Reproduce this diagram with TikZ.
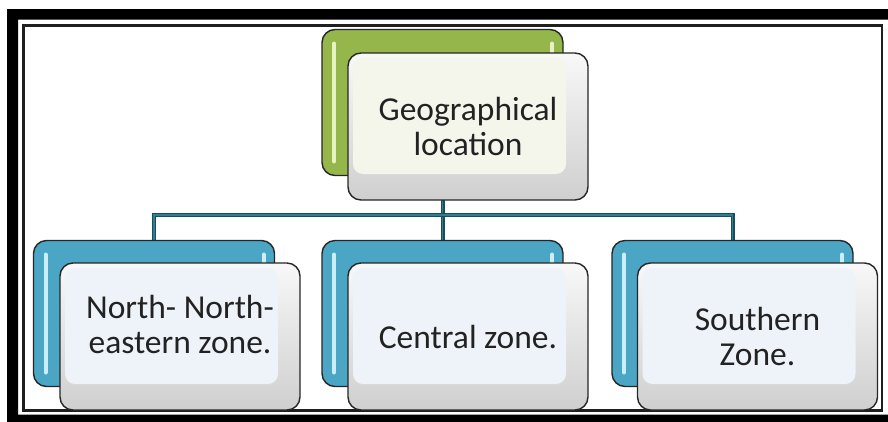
\documentclass[tikz,border=0pt]{standalone}
\usepackage{fontspec}
\setmainfont{Carlito}
\usetikzlibrary{backgrounds}
\definecolor{edge}{HTML}{262626}
\definecolor{greenback}{HTML}{94B64A}
\definecolor{greenhl}{HTML}{E6F2C0}
\definecolor{blueback}{HTML}{4AA6C4}
\definecolor{bluehl}{HTML}{C9EEF7}
\definecolor{facegreen}{HTML}{F4F6EC}
\definecolor{faceblue}{HTML}{EDF3F9}
\definecolor{bevtop}{HTML}{F8F8F8}
\definecolor{bevbot}{HTML}{CFCFCF}
\definecolor{txt}{HTML}{222222}
\definecolor{conndark}{HTML}{1B4C59}
\definecolor{connmid}{HTML}{2E7F93}
\begin{document}
\begin{tikzpicture}[x=1pt,y=-1pt,
  backbox/.style n args={2}{draw=edge,line width=1.4pt,rounded corners=13pt,
    minimum width=241pt,minimum height=146pt,inner sep=0pt,fill=#1,
    path picture={
      \draw[line width=4pt,#2,line cap=round]
        ([xshift=12pt,yshift=-14pt]path picture bounding box.north west) --
        ([xshift=12pt,yshift=14pt]path picture bounding box.south west);
      \draw[line width=4pt,#2,line cap=round]
        ([xshift=-11pt,yshift=-14pt]path picture bounding box.north east) --
        ([xshift=-11pt,yshift=14pt]path picture bounding box.south east);
    }},
  frontbox/.style={draw=edge,line width=1.4pt,rounded corners=13pt,
    minimum width=240pt,minimum height=147pt,inner sep=0pt,
    top color=bevtop,bottom color=bevbot,
    align=center,font=\fontsize{33.5}{35}\selectfont,text=txt,
    path picture={
      \fill[#1,rounded corners=10pt]
        ([xshift=5pt,yshift=-5pt]path picture bounding box.north west) rectangle
        ([xshift=-22pt,yshift=26pt]path picture bounding box.south east);
    }},
  conn/.style={draw=conndark,double=connmid,double distance=1.8pt,line width=1.1pt}
]
\useasboundingbox (0,0) rectangle (888,421);
% frame
\fill[black,even odd rule] (7,9) rectangle (898,432) (18,19.5) rectangle (892,414.5);
\draw[line width=2.5pt,black!88] (23.5,25.5) rectangle (882,410.5);

% top
\node[backbox={greenback}{greenhl}] (topback) at (442.5,102.5) {};
\node[frontbox=facegreen] (topfront) at (468,126.5) {Geographical\\location};

% bottom
\node[backbox={blueback}{bluehl}] (leftback) at (154,313.5) {};
\node[frontbox=faceblue,text depth=24pt] (leftfront) at (180,336.5) {North- North-\\eastern zone.};

\node[backbox={blueback}{bluehl}] (midback) at (442.5,313.5) {};
\node[frontbox=faceblue] (midfront) at (468,336.5) {Central zone.};

\node[backbox={blueback}{bluehl}] (rightback) at (732.5,313.5) {};
\node[frontbox=faceblue] (rightfront) at (757.5,336.5) {Southern\\Zone.};

\coordinate (bus) at (442.5,215);
\begin{scope}[on background layer]
  \draw[conn] (topback.south) -- (midback.north);
  \draw[conn] (leftback.north) |- (bus) -| (rightback.north);
\end{scope}
\end{tikzpicture}
\end{document}
